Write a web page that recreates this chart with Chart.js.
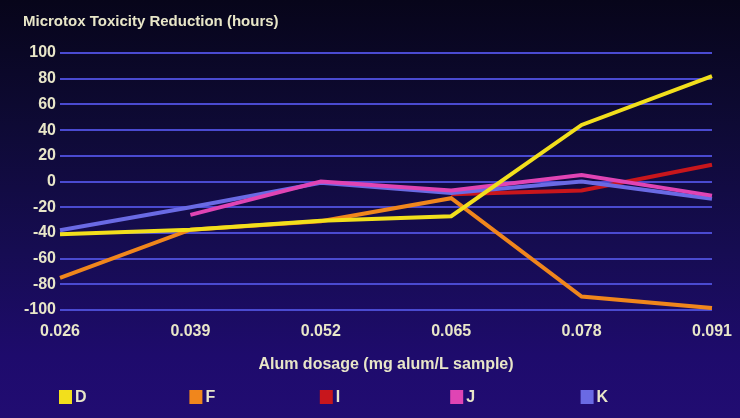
<!DOCTYPE html>
<html>
<head>
<meta charset="utf-8">
<script src="https://cdn.jsdelivr.net/npm/chart.js@4"></script>
<style>
  html, body { margin: 0; padding: 0; }
  #wrap {
    width: 740px; height: 418px; position: relative;
    background: linear-gradient(to bottom, #07051a 0%, #0e0a35 30%, #160c52 60%, #1e0b6c 85%, #210c72 100%);
  }
</style>
</head>
<body>
<div id="wrap"><canvas id="chart"></canvas></div>
<script>
const dosages = ["0.026", "0.039", "0.052", "0.065", "0.078", "0.091"];
const seriesD = [-41, -37.5, -30.5, -27, 44, 82];
const seriesF = [-75, -37.5, -31, -13, -89.5, -98.5];
const seriesI = [null, null, null, -10, -7, 13];
const seriesJ = [null, -26, 0, -7, 5, -11];
const seriesK = [-38, -20, -1, -9, 0, -13.5];
const yTicks = [-100, -80, -60, -40, -20, 0, 20, 40, 60, 80, 100];

const textColor = "#e8e6c8";
const font = "'Liberation Sans', Arial, sans-serif";

// legend squares sit under the category positions
const legendUnder = {
  id: "legendUnder",
  afterDraw(chart) {
    const ctx = chart.ctx;
    const xs = chart.scales.x;
    ctx.save();
    ctx.font = "bold 16px " + font;
    ctx.textBaseline = "middle";
    chart.data.datasets.forEach(function(ds, i) {
      const x = xs.getPixelForValue(i);
      const y = 397;
      ctx.fillStyle = ds.borderColor;
      ctx.fillRect(x - 1, y - 7, 13, 14);
      ctx.fillStyle = textColor;
      ctx.fillText(ds.label, x + 15, y + 1);
    });
    ctx.restore();
  }
};

new Chart(document.getElementById("chart"), {
  type: "line",
  data: {
    labels: dosages,
    datasets: [
      { label: "D", data: seriesD, borderColor: "#f2df1c", order: 1 },
      { label: "F", data: seriesF, borderColor: "#f0861c", order: 2 },
      { label: "I", data: seriesI, borderColor: "#c8161c", order: 5 },
      { label: "J", data: seriesJ, borderColor: "#e044b4", order: 3 },
      { label: "K", data: seriesK, borderColor: "#6a6ae4", order: 4 }
    ]
  },
  options: {
    responsive: true,
    maintainAspectRatio: false,
    animation: false,
    elements: {
      line: { borderWidth: 4, tension: 0 },
      point: { radius: 0 }
    },
    layout: { padding: { left: 23, right: 28, top: 0, bottom: 44 } },
    plugins: {
      legend: { display: false },
      tooltip: { enabled: false },
      title: {
        display: true,
        text: "Microtox Toxicity Reduction (hours)",
        align: "start",
        color: textColor,
        font: { family: font, size: 15, weight: "bold" },
        padding: { top: 13, bottom: 22 }
      }
    },
    scales: {
      x: {
        offset: false,
        grid: { display: false, drawTicks: false },
        border: { display: false },
        ticks: { color: textColor, padding: 12, maxRotation: 0, font: { family: font, size: 16, weight: "bold" } },
        title: {
          display: true,
          text: "Alum dosage (mg alum/L sample)",
          color: textColor,
          font: { family: font, size: 16, weight: "bold" },
          padding: { top: 16, bottom: 0 }
        },
        afterFit(scale) {
          scale.height = 64;
          scale.paddingLeft = 0;
          scale.paddingRight = 0;
        }
      },
      y: {
        min: -100,
        max: 100,
        afterBuildTicks(scale) { scale.ticks = yTicks.map(v => ({ value: v })); },
        grid: { color: "#4a4ad0", lineWidth: 2, drawTicks: false },
        border: { display: false },
        ticks: { color: textColor, padding: 4, font: { family: font, size: 16, weight: "bold" } },
        afterFit(scale) { scale.width = 37; }
      }
    }
  },
  plugins: [legendUnder]
});
</script>
</body>
</html>
